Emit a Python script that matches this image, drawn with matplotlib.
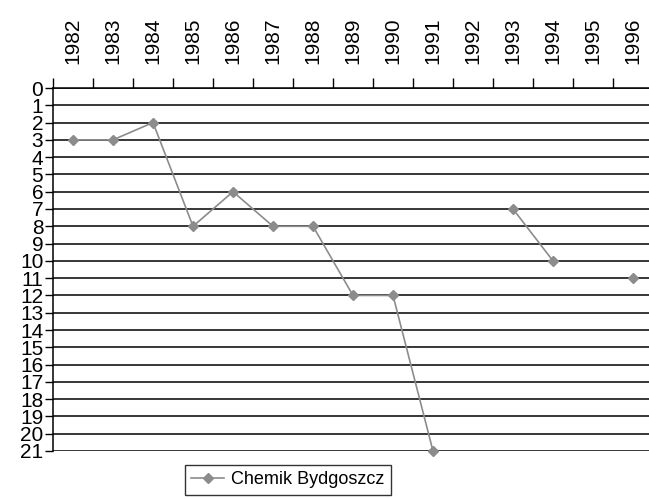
import numpy as np
import matplotlib.pyplot as plt

years = ['1982', '1983', '1984', '1985', '1986', '1987', '1988', '1989',
         '1990', '1991', '1992', '1993', '1994', '1995', '1996']
# league position per season, None where the club did not play
positions = [3, 3, 2, 8, 6, 8, 8, 12, 12, 21, None, 7, 10, None, 11]
team = 'Chemik Bydgoszcz'

plt.rcParams['font.family'] = ['Liberation Sans', 'DejaVu Sans']

fig = plt.figure(figsize=(6.49, 4.99), dpi=100)
# plot area runs a little past the right edge, as in the reference
ax = fig.add_axes([53 / 649, 48 / 499, 600 / 649, 363 / 499])

x = np.arange(len(years))
y = np.array([np.nan if p is None else p for p in positions], dtype=float)
line, = ax.plot(x, y, color='#8c8c8c', lw=1.2, marker='D', ms=5.5,
                mfc='#8c8c8c', mec='#8c8c8c', label=team, clip_on=False,
                zorder=3)

ax.set_xlim(-0.5, len(years) - 0.5)
ax.set_ylim(21, 0)

# horizontal grid at every place
ax.set_yticks(range(0, 22))
ax.set_yticklabels([str(i) for i in range(0, 22)], fontsize=15)
ax.yaxis.grid(True, color='black', lw=1.1)
ax.tick_params(axis='y', length=6, width=1, pad=1, color='black')

# years on top, tick marks between categories
ax.xaxis.tick_top()
ax.set_xticks(np.arange(-0.5, len(years)), minor=False)
ax.set_xticklabels([])
ax.set_xticks(x, minor=True)
ax.set_xticklabels(years, minor=True, rotation=90, fontsize=15)
ax.tick_params(axis='x', which='major', length=7, width=1, color='black')
ax.tick_params(axis='x', which='minor', length=0, pad=17)

for s in ['right', 'bottom']:
    ax.spines[s].set_visible(False)
ax.spines['left'].set_linewidth(1.1)
ax.spines['top'].set_linewidth(1.1)

leg = fig.legend(handles=[line], loc='upper left',
                 bbox_to_anchor=(185 / 649, 1 - 465 / 499),
                 borderaxespad=0, frameon=True, fancybox=False,
                 shadow=False, edgecolor='black', fontsize=13,
                 handlelength=1.8, borderpad=0.35, handletextpad=0.4)
leg.get_frame().set_linewidth(1.0)

fig.savefig('out.png', dpi=100)
